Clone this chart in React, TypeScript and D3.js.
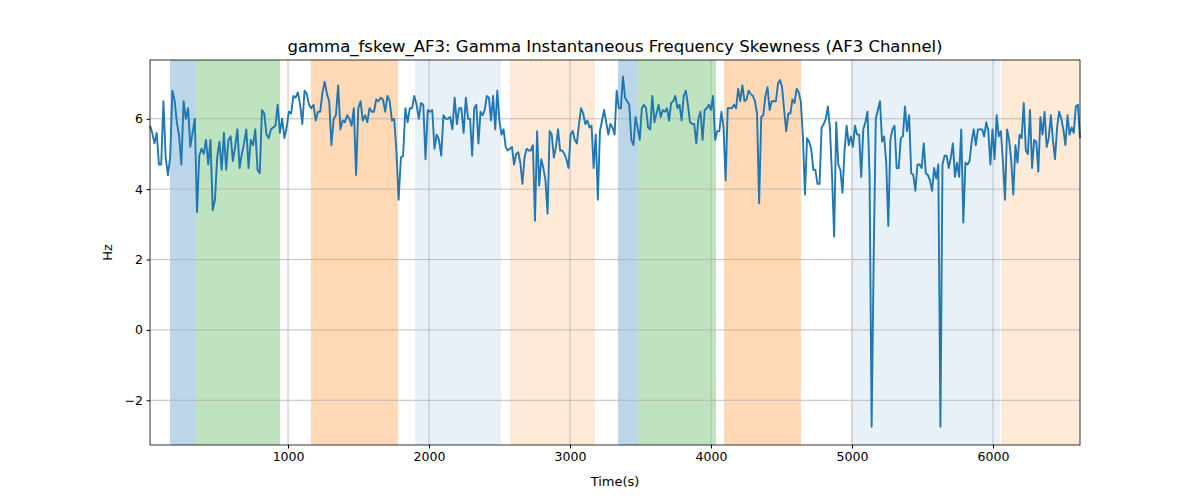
import { useRef, useEffect } from "react";
import * as d3 from "d3";

// three stretches of the trace, each evenly sampled between its start and end time
const seg1Range = [21, 2277];
const seg1 = [5.8,5.6,5.3,5.6,4.7,4.7,6.5,4.9,4.4,4.9,6.8,6.5,5.9,5.5,4.7,6.5,6.0,6.3,5.2,5.6,6.0,3.35,4.95,5.15,5.0,5.4,4.7,5.4,3.4,3.7,4.9,5.35,4.55,5.6,4.55,5.4,5.5,4.8,5.2,5.7,4.6,5.0,5.3,5.7,4.6,5.4,5.25,5.7,4.55,4.45,6.25,6.15,5.55,5.45,5.7,5.75,5.8,6.4,5.6,6.0,5.45,5.75,6.2,6.15,6.65,6.6,6.75,6.4,5.85,6.8,6.7,6.4,6.3,6.4,5.95,6.2,6.2,6.75,7.05,6.7,6.5,5.25,6.0,6.1,6.95,5.7,5.95,5.9,6.1,6.0,5.8,6.3,4.4,6.3,6.5,5.95,6.1,5.9,6.3,6.2,6.2,6.55,6.5,6.6,6.55,6.2,6.65,6.5,5.95,6.0,5.1,3.7,4.9,4.95,6.3,5.9,6.3,6.3,6.65,6.4,6.0,6.45,6.4,4.85,6.25,6.2,6.25,5.15,5.55,5.4,4.95,6.1,6.0,6.0,6.05,5.7,6.6,5.85,6.3,6.3,5.6,6.6,6.0];
const seg2Range = [2291, 4475];
const seg2 = [6.0,4.95,6.3,6.4,5.3,6.2,6.1,6.25,6.65,6.6,5.95,6.65,5.7,6.8,5.95,5.55,5.7,5.2,5.1,5.15,5.2,4.7,5.0,5.05,4.75,4.15,4.9,5.15,5.1,5.1,5.25,3.1,5.65,4.1,4.85,4.6,4.25,3.3,5.65,5.55,4.9,5.2,5.7,5.1,5.1,5.0,4.85,4.6,5.55,5.65,5.4,5.3,5.85,6.3,6.15,5.85,5.95,5.75,5.8,4.6,5.55,3.7,5.65,5.95,6.25,5.9,5.55,5.85,5.75,5.55,6.8,6.3,6.3,7.2,6.6,6.5,6.4,5.4,5.25,6.05,5.75,5.4,6.3,6.4,6.3,5.75,5.7,6.65,5.9,6.15,6.4,6.05,6.25,6.2,6.3,5.95,6.45,6.5,6.65,6.3,6.4,5.95,6.65,6.8,6.4,5.9,5.85,5.85,5.3,6.0,6.2,5.4,6.25,6.3,6.4,6.25,6.65,5.4,5.65,5.65,6.2,5.75,4.25,6.3,6.3,6.3,6.4,6.3,6.85,6.5,6.95,6.5,6.55,6.8,6.7,6.65,6.5,6.15,3.6,6.05,6.1,6.65,6.9,6.25,6.5,6.5,6.5,7.0];
const seg3Range = [4489, 6617];
const seg3 = [7.1,6.9,6.25,5.65,6.15,6.15,6.55,6.45,6.85,6.75,6.5,5.5,3.85,5.45,5.35,5.15,4.55,4.55,4.15,4.15,5.75,5.85,6.0,6.35,5.7,4.35,2.65,5.9,4.7,4.55,3.9,5.1,5.8,5.25,5.5,5.2,5.8,5.55,5.55,4.35,5.7,5.9,6.2,4.4,-2.75,2.15,6.0,6.25,6.5,5.35,5.5,4.75,2.95,5.4,5.7,5.8,4.6,4.6,5.45,5.5,6.35,5.65,6.1,4.45,4.4,3.95,4.7,4.7,4.6,5.3,4.45,4.4,4.25,3.95,4.6,4.3,4.7,-2.75,4.7,4.95,4.95,4.6,4.9,5.3,4.35,4.75,4.35,5.7,3.05,4.75,4.7,4.8,5.35,5.7,5.25,5.7,5.7,5.7,5.5,5.9,5.65,4.7,5.7,4.85,6.1,5.5,5.65,4.8,3.7,5.7,5.4,4.8,3.85,5.25,4.75,5.55,5.45,6.45,5.1,5.0,6.25,4.6,5.4,5.35,4.5,6.05,5.55,6.2,5.2,5.45,6.1,5.4,4.85,5.75,6.2,6.0,5.7,5.25,6.1,5.55,5.75,5.6,6.35,6.4,5.45];

const bandStart = [163, 347, 1163, 1901, 2574, 3340, 3482, 4092, 4993, 6057];
const bandEnd = [347, 943, 1780, 2511, 3177, 3482, 4035, 4638, 6050, 6617];
const bandColor = ["#1f77b4","#2ca02c","#ff7f0e","#1f77b4","#ff7f0e","#1f77b4","#2ca02c","#ff7f0e","#1f77b4","#ff7f0e"];
const bandAlpha = [0.3, 0.3, 0.3, 0.1, 0.16, 0.3, 0.3, 0.3, 0.1, 0.16];

const xTicks = [1000, 2000, 3000, 4000, 5000, 6000];
const yTicks = [-2, 0, 2, 4, 6];

function spread(range: number[], vals: number[]) {
  const n = vals.length;
  return vals.map((v, i) => ({ t: range[0] + (range[1] - range[0]) * i / (n - 1), v }));
}

export default function App() {
  const svgRef = useRef(null);

  useEffect(() => {
    const W = 1200, H = 500;
    const margin = { left: 150, right: 120, top: 60, bottom: 55 };
    const svg = d3.select(svgRef.current);
    svg.selectAll("*").remove();
    svg.attr("viewBox", [0, 0, W, H]).attr("width", W).attr("height", H)
      .style("font-family", "'DejaVu Sans', sans-serif");

    const data = [...spread(seg1Range, seg1), ...spread(seg2Range, seg2), ...spread(seg3Range, seg3)];

    const x = d3.scaleLinear().domain([21, 6617]).range([margin.left, W - margin.right]);
    const y = d3.scaleLinear().domain([-3.27, 7.67]).range([H - margin.bottom, margin.top]);

    // spans
    svg.append("g").selectAll("rect").data(bandStart).join("rect")
      .attr("x", (d) => x(d))
      .attr("width", (d, i) => x(bandEnd[i]) - x(d))
      .attr("y", margin.top)
      .attr("height", H - margin.bottom - margin.top)
      .attr("fill", (d, i) => bandColor[i])
      .attr("fill-opacity", (d, i) => bandAlpha[i]);

    // grid
    const grid = svg.append("g").attr("stroke", "#b0b0b0").attr("stroke-width", 0.8);
    xTicks.forEach((t) => grid.append("line").attr("x1", x(t)).attr("x2", x(t)).attr("y1", margin.top).attr("y2", H - margin.bottom));
    yTicks.forEach((t) => grid.append("line").attr("x1", margin.left).attr("x2", W - margin.right).attr("y1", y(t)).attr("y2", y(t)));

    const line = d3.line<any>().x((d) => x(d.t)).y((d) => y(d.v));
    svg.append("path").datum(data).attr("d", line).attr("fill", "none")
      .attr("stroke", "#1f77b4").attr("stroke-width", 1.9).attr("stroke-linejoin", "round");

    const xAx = svg.append("g").attr("transform", `translate(0,${H - margin.bottom})`)
      .call(d3.axisBottom(x).tickValues(xTicks).tickSize(3.5).tickPadding(3.5).tickSizeOuter(0)
        .tickFormat((d: any) => String(d)));
    const yAx = svg.append("g").attr("transform", `translate(${margin.left},0)`)
      .call(d3.axisLeft(y).tickValues(yTicks).tickSize(3.5).tickPadding(3.5).tickSizeOuter(0)
        .tickFormat((d: any) => (d < 0 ? "\u2212" + Math.abs(d) : String(d))));
    [xAx, yAx].forEach((a) => {
      a.selectAll("text").attr("font-size", 12.5).attr("font-family", "'DejaVu Sans', sans-serif").attr("fill", "#000");
      a.selectAll("line").attr("stroke", "#000");
      a.select(".domain").remove();
    });

    svg.append("rect").attr("x", margin.left).attr("y", margin.top)
      .attr("width", W - margin.left - margin.right).attr("height", H - margin.top - margin.bottom)
      .attr("fill", "none").attr("stroke", "#000").attr("stroke-width", 0.8);

    svg.append("text").attr("x", (margin.left + W - margin.right) / 2).attr("y", 52)
      .attr("text-anchor", "middle").attr("font-size", 16.5)
      .text("gamma_fskew_AF3: Gamma Instantaneous Frequency Skewness (AF3 Channel)");
    svg.append("text").attr("x", (margin.left + W - margin.right) / 2).attr("y", 486)
      .attr("text-anchor", "middle").attr("font-size", 13).text("Time(s)");
    svg.append("text").attr("transform", `translate(112,${(margin.top + H - margin.bottom) / 2}) rotate(-90)`)
      .attr("text-anchor", "middle").attr("font-size", 13).text("Hz");
  }, []);

  return (
    <svg ref={svgRef} style={{ position: "absolute", left: 0, top: 0 }}></svg>
  );
}
